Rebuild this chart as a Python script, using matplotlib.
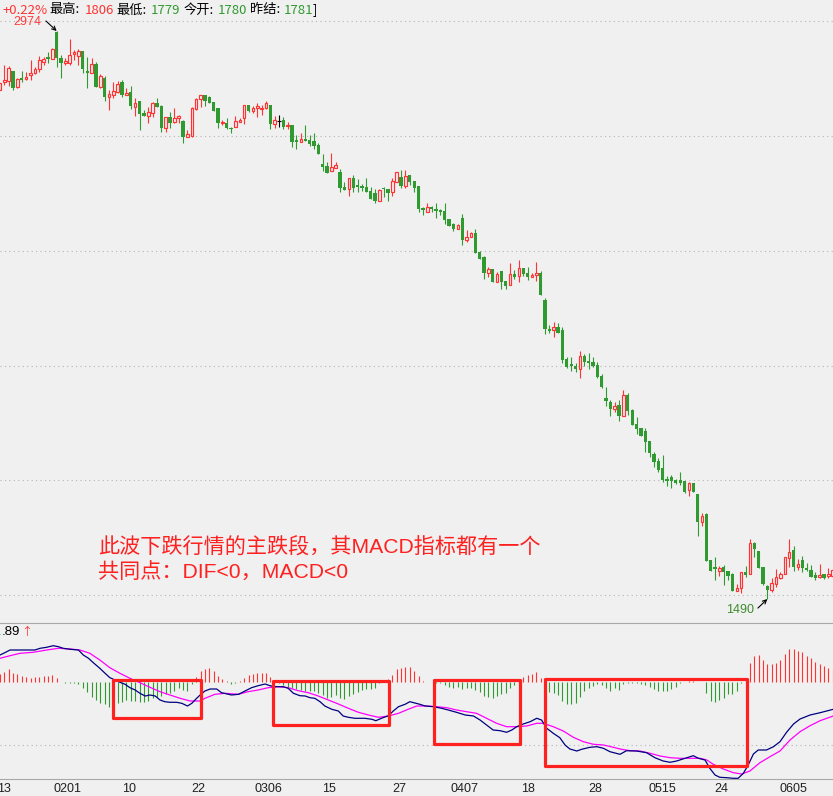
import numpy as np
import matplotlib
matplotlib.use('Agg')
import matplotlib.pyplot as plt
from matplotlib.patches import Rectangle

plt.rcParams['font.family'] = ['Noto Sans CJK SC', 'DejaVu Sans']

# daily bars, oldest first
opens = [2820, 2841, 2843, 2870, 2828, 2851, 2849, 2859, 2864, 2875, 2893, 2906,
         2901, 2971, 2903, 2890, 2890, 2914, 2909, 2922, 2870, 2864, 2888, 2828,
         2851, 2802, 2807, 2815, 2841, 2807, 2815, 2775, 2791, 2760, 2752, 2760,
         2786, 2778, 2721, 2749, 2736, 2747, 2739, 2697, 2700, 2770, 2796, 2807,
         2802, 2789, 2773, 2734, 2734, 2721, 2723, 2736, 2747, 2781, 2765, 2773,
         2770, 2773, 2781, 2731, 2740, 2741, 2726, 2728, 2689, 2684, 2692, 2689,
         2687, 2676, 2627, 2621, 2608, 2616, 2606, 2566, 2561, 2590, 2572, 2569,
         2566, 2556, 2551, 2530, 2564, 2561, 2553, 2579, 2593, 2569, 2598, 2582,
         2569, 2512, 2501, 2514, 2509, 2506, 2504, 2483, 2470, 2457, 2485, 2428,
         2436, 2446, 2397, 2383, 2342, 2352, 2318, 2347, 2321, 2310, 2339, 2334,
         2355, 2342, 2331, 2336, 2342, 2271, 2195, 2193, 2201, 2193, 2117, 2104,
         2099, 2091, 2125, 2112, 2109, 2101, 2073, 2015, 2005, 1986, 1997, 1968,
         2023, 1984, 1947, 1937, 1929, 1903, 1869, 1850, 1832, 1803, 1809, 1801,
         1801, 1798, 1775, 1793, 1764, 1691, 1712, 1592, 1573, 1563, 1573, 1563,
         1555, 1511, 1519, 1560, 1555, 1636, 1615, 1573, 1524, 1513, 1529, 1545,
         1555, 1597, 1618, 1573, 1592, 1571, 1566, 1552, 1547, 1555, 1550, 1550]
highs = [2838, 2885, 2883, 2870, 2851, 2870, 2867, 2898, 2880, 2909, 2906, 2919,
         2930, 2974, 2911, 2903, 2953, 2924, 2927, 2922, 2906, 2903, 2893, 2862,
         2856, 2820, 2841, 2843, 2846, 2825, 2830, 2799, 2791, 2768, 2775, 2789,
         2799, 2781, 2749, 2762, 2773, 2755, 2741, 2715, 2775, 2799, 2807, 2807,
         2804, 2789, 2773, 2741, 2747, 2723, 2752, 2747, 2781, 2781, 2778, 2786,
         2781, 2791, 2781, 2752, 2755, 2749, 2736, 2728, 2702, 2708, 2728, 2702,
         2708, 2681, 2653, 2632, 2655, 2632, 2613, 2579, 2590, 2598, 2587, 2574,
         2590, 2566, 2561, 2561, 2566, 2561, 2590, 2606, 2611, 2611, 2598, 2582,
         2569, 2514, 2525, 2517, 2525, 2509, 2525, 2483, 2472, 2470, 2496, 2454,
         2449, 2457, 2399, 2386, 2357, 2352, 2344, 2347, 2321, 2368, 2349, 2376,
         2355, 2357, 2342, 2370, 2347, 2276, 2206, 2214, 2211, 2201, 2122, 2122,
         2107, 2138, 2130, 2133, 2122, 2109, 2078, 2044, 2010, 2005, 2010, 2036,
         2028, 1986, 1965, 1937, 1937, 1903, 1874, 1858, 1866, 1811, 1814, 1803,
         1822, 1798, 1796, 1793, 1764, 1715, 1715, 1592, 1600, 1576, 1579, 1563,
         1558, 1529, 1560, 1576, 1647, 1639, 1615, 1573, 1526, 1545, 1568, 1560,
         1600, 1647, 1628, 1594, 1602, 1584, 1579, 1560, 1581, 1555, 1571, 1571]
lows = [2820, 2833, 2830, 2820, 2825, 2841, 2846, 2846, 2862, 2867, 2885, 2890,
        2901, 2880, 2851, 2885, 2885, 2898, 2885, 2864, 2825, 2864, 2828, 2825,
        2791, 2768, 2799, 2812, 2802, 2807, 2770, 2752, 2715, 2752, 2734, 2749,
        2775, 2710, 2710, 2721, 2734, 2734, 2681, 2697, 2697, 2768, 2775, 2778,
        2786, 2765, 2721, 2728, 2718, 2708, 2723, 2736, 2731, 2762, 2760, 2749,
        2755, 2770, 2718, 2721, 2723, 2718, 2718, 2671, 2666, 2684, 2687, 2674,
        2666, 2653, 2608, 2603, 2608, 2616, 2553, 2559, 2543, 2553, 2553, 2556,
        2553, 2535, 2525, 2530, 2540, 2530, 2543, 2579, 2564, 2564, 2572, 2553,
        2501, 2493, 2501, 2501, 2485, 2493, 2470, 2464, 2451, 2457, 2415, 2423,
        2436, 2394, 2378, 2326, 2331, 2318, 2318, 2300, 2300, 2310, 2326, 2318,
        2334, 2323, 2331, 2321, 2284, 2182, 2185, 2174, 2185, 2107, 2093, 2086,
        2083, 2067, 2099, 2091, 2096, 2067, 2041, 1994, 1968, 1978, 1955, 1968,
        1971, 1944, 1921, 1916, 1874, 1861, 1835, 1822, 1796, 1785, 1780, 1790,
        1788, 1767, 1759, 1769, 1654, 1681, 1589, 1563, 1539, 1550, 1526, 1539,
        1511, 1511, 1505, 1547, 1555, 1600, 1571, 1526, 1490, 1508, 1521, 1542,
        1555, 1573, 1563, 1566, 1560, 1563, 1547, 1539, 1545, 1542, 1545, 1545]
closes = [2838, 2846, 2877, 2825, 2849, 2847, 2854, 2864, 2875, 2898, 2901, 2901,
          2927, 2903, 2890, 2896, 2911, 2919, 2922, 2875, 2864, 2888, 2828, 2856,
          2802, 2809, 2817, 2836, 2807, 2812, 2778, 2786, 2757, 2752, 2762, 2786,
          2775, 2721, 2749, 2734, 2747, 2752, 2697, 2705, 2773, 2796, 2807, 2791,
          2786, 2765, 2734, 2736, 2721, 2718, 2739, 2741, 2781, 2765, 2773, 2778,
          2773, 2786, 2731, 2741, 2740, 2723, 2728, 2684, 2684, 2692, 2687, 2679,
          2674, 2653, 2619, 2603, 2619, 2624, 2564, 2559, 2590, 2564, 2566, 2564,
          2553, 2535, 2530, 2559, 2560, 2551, 2582, 2606, 2569, 2595, 2579, 2564,
          2509, 2506, 2514, 2509, 2504, 2501, 2480, 2464, 2457, 2467, 2428, 2436,
          2446, 2394, 2378, 2342, 2352, 2318, 2339, 2318, 2308, 2339, 2331, 2355,
          2339, 2331, 2336, 2342, 2284, 2195, 2190, 2201, 2185, 2114, 2096, 2099,
          2091, 2125, 2109, 2107, 2099, 2070, 2044, 2007, 1986, 1994, 1968, 2023,
          1981, 1944, 1934, 1916, 1900, 1871, 1848, 1827, 1801, 1798, 1798, 1793,
          1793, 1769, 1793, 1769, 1691, 1707, 1589, 1563, 1568, 1571, 1560, 1550,
          1511, 1519, 1560, 1552, 1636, 1620, 1571, 1529, 1513, 1532, 1547, 1555,
          1600, 1613, 1573, 1581, 1571, 1566, 1547, 1545, 1552, 1545, 1555, 1566]

# MACD histogram, one per bar
macd_hist = [7.7, 10, 12.7, 8.3, 7.3, 5.7, 5, 4, 5, 5, 5.7, 6,
             6.7, 4, -0.5, -1, -1, -1.5, -2.5, -6.7, -10, -15, -18.3, -21,
             -22.3, -25, -22.3, -21, -20, -18.3, -19.3, -19.3, -20.7, -20, -19.3, -16.7,
             -15, -14.3, -12.7, -11, -9, -6.7, -8.3, -9, -2.3, 4.3, 10.5, 12.5,
             14, 11, 6.2, 3, 1, -2, -1, 0.3, 4, 6.7, 8, 8.7,
             9.2, 9.2, 5, 0.3, -1, -3, -5, -6, -7.7, -8.3, -9, -9,
             -9.3, -11, -13.3, -16, -15, -13.3, -16, -17.3, -14.3, -12.7, -10, -8.3,
             -7.3, -7.3, -6, -1.7, 0.5, 2.5, 6.7, 12.7, 13.3, 14.3, 14.3, 10.7,
             5.7, 0.3, -0.3, -0.5, -1, -1.5, -3.3, -5.7, -6, -5.7, -7.3, -6.7,
             -6.7, -8.3, -10, -14.3, -15, -16, -14, -12.7, -11.7, -6, -3.3, -0.5,
             4.3, 6.7, 7.7, 9.3, 4, -3, -10, -11.7, -13.3, -19.3, -22.7, -22.7,
             -21, -15, -9.3, -6, -4, -2.7, -3.3, -6, -9, -6.7, -8.3, -2,
             -1, -1.5, -1, -2.3, -3, -5.7, -7, -9, -9.3, -9.3, -7.3, -5,
             -1.7, -0.3, 0.7, 1, -0.3, -0.3, -11, -19.3, -20, -18.3, -16.7, -12,
             -12, -9.3, -1, 2, 19, 25.7, 26.7, 21.7, 17.7, 17.7, 19, 21.7,
             27.7, 32.7, 32.3, 30.7, 29.3, 25.7, 23.3, 19.3, 17.7, 15.7, 14, 12]

# DIF / DEA: (bar number, value)
dif_pts = [(1.0, 26.7), (2.1, 29.0), (3.3, 31.7), (7.1, 31.7), (9.0, 31.7), (10.2, 33.4),
           (11.7, 34.4), (13.2, 36.0), (14.4, 35.0), (15.5, 33.4), (17.1, 32.4), (19.0, 31.7),
           (20.1, 26.7), (21.3, 23.4), (22.4, 19.0), (23.9, 13.4), (25.1, 8.4), (26.2, 4.0),
           (27.4, 1.7), (28.5, -0.6), (29.7, -2.6), (30.8, -6.0), (32.0, -8.3), (33.1, -11.6),
           (34.3, -14.3), (35.4, -13.3), (36.6, -14.3), (37.7, -18.3), (38.8, -20.0), (40.0, -20.6),
           (41.5, -20.6), (42.7, -21.6), (44.0, -24.3), (45.0, -21.6), (46.1, -16.6), (46.9, -13.3),
           (48.0, -9.3), (49.2, -7.3), (50.7, -7.3), (51.8, -11.0), (54.1, -13.3), (55.7, -12.6),
           (57.2, -9.3), (58.7, -6.0), (60.2, -4.0), (61.8, -2.3), (62.9, -4.0), (64.1, -5.0),
           (66.0, -5.0), (67.1, -6.6), (68.3, -11.6), (69.8, -14.0), (71.0, -14.3), (72.1, -16.0),
           (73.2, -16.6), (74.4, -20.0), (75.5, -24.3), (77.1, -27.6), (78.6, -29.3), (79.7, -34.3),
           (80.9, -35.6), (82.4, -36.6), (84.7, -36.6), (86.3, -37.6), (87.2, -39.0), (88.5, -36.6),
           (90.1, -34.0), (91.2, -29.3), (92.4, -25.0), (93.9, -22.6), (95.0, -20.0), (97.3, -22.6),
           (98.5, -24.3), (100.4, -25.0), (102.3, -26.6), (103.8, -28.3), (105.7, -30.6), (107.7, -33.3),
           (109.6, -34.3), (111.1, -38.3), (112.6, -43.3), (114.1, -48.3), (115.7, -49.0), (117.2, -50.6),
           (118.4, -48.3), (119.5, -45.0), (121.0, -42.3), (122.6, -40.0), (124.1, -36.6), (125.2, -38.3),
           (126.4, -46.6), (127.9, -51.6), (129.4, -56.0), (130.6, -63.3), (131.7, -67.3), (133.3, -69.3),
           (134.4, -67.6), (136.3, -65.6), (137.9, -65.0), (139.4, -66.6), (140.9, -70.0), (143.2, -72.6),
           (144.7, -69.0), (147.0, -69.3), (149.3, -71.0), (151.2, -76.0), (153.1, -79.3), (154.7, -80.6),
           (156.2, -79.3), (158.1, -76.6), (160.0, -74.0), (161.2, -76.6), (162.7, -78.3), (163.8, -86.6),
           (165.0, -93.3), (166.1, -95.6), (167.7, -96.0), (169.2, -96.6), (170.3, -96.6), (171.5, -91.6),
           (172.6, -83.3), (173.8, -72.3), (174.9, -68.3), (176.8, -68.3), (178.4, -65.0), (179.9, -60.0),
           (181.4, -50.6), (183.0, -42.3), (184.5, -37.3), (186.8, -33.3), (189.1, -31.0), (192.1, -27.6)]
dea_pts = [(1.0, 23.4), (3.3, 26.0), (5.6, 28.4), (8.6, 29.4), (11.7, 31.7), (14.4, 33.4),
           (17.1, 32.7), (19.3, 31.7), (21.6, 28.4), (23.9, 21.7), (26.2, 14.0), (28.5, 8.4),
           (30.8, 3.4), (33.1, -1.0), (35.4, -5.6), (37.7, -10.0), (40.0, -13.3), (42.3, -16.6),
           (44.6, -19.3), (46.9, -19.3), (48.0, -16.6), (50.3, -12.6), (52.6, -11.6), (55.7, -12.6),
           (57.9, -10.0), (60.2, -8.3), (62.5, -6.0), (64.8, -5.0), (67.1, -6.0), (69.4, -9.0),
           (71.7, -11.0), (74.0, -14.3), (76.3, -18.3), (78.6, -22.3), (80.9, -26.6), (83.2, -30.6),
           (85.5, -33.3), (87.8, -35.6), (90.1, -34.3), (92.4, -31.6), (94.6, -27.6), (96.6, -24.3),
           (98.9, -24.3), (101.2, -25.0), (103.5, -26.0), (105.7, -28.3), (108.0, -30.0), (110.3, -31.6),
           (112.6, -36.6), (114.9, -41.6), (117.2, -45.0), (119.5, -45.0), (121.8, -44.3), (124.1, -41.6),
           (125.6, -41.6), (127.9, -45.0), (130.2, -49.3), (132.5, -55.6), (134.8, -60.0), (137.1, -62.6),
           (139.4, -63.3), (141.7, -65.6), (143.2, -67.3), (145.5, -69.0), (147.8, -69.3), (150.1, -71.6),
           (152.4, -74.3), (154.7, -76.0), (157.0, -76.6), (159.3, -76.6), (161.6, -76.6), (163.1, -78.3),
           (164.6, -82.6), (166.9, -87.3), (169.2, -91.0), (171.1, -92.3), (173.0, -89.3), (175.3, -81.0),
           (177.6, -75.0), (179.9, -69.3), (182.2, -58.3), (184.5, -50.0), (186.8, -44.0), (189.1, -39.0),
           (192.1, -34.3)]

date_labels = ['13', '0201', '10', '22', '0306', '15', '27', '0407', '18', '28', '0515', '24', '0605']
date_pos = [2, 16.5, 30.5, 46.5, 62.5, 76.5, 92.5, 107.5, 122, 137.5, 153, 166.5, 183]

# boxes drawn over the MACD panel: (first bar, last bar, top, bottom)
boxes = [(26.9, 47.1, 1.7, -36.3), (63.6, 90.2, 0.7, -43.3),
         (100.5, 120.3, 1.7, -62.3), (126.0, 172.3, 2.7, -84.3)]

W, H = 833, 796
BG = '#f0f0f0'
RED = '#ff3333'
GREEN = '#2f9a2f'
BAR_PX = 4.36   # pixel pitch of one bar


def fx(px):
    return px / W


def fy(py):
    return 1 - py / H


fig = plt.figure(figsize=(W / 100, H / 100), dpi=100, facecolor=BG)
ax = fig.add_axes([0, fy(622), 1, (622 - 18) / H], facecolor=BG)
ax2 = fig.add_axes([0, fy(779), 1, (779 - 623) / H], facecolor=BG)

x = np.arange(1, len(closes) + 1)
o, h, l, c = (np.array(v, dtype=float) for v in (opens, highs, lows, closes))
up = c > o
dn = c < o
flat = c == o

# candles
ax.vlines(x[dn], l[dn], h[dn], color=GREEN, lw=0.8, zorder=2)
ax.bar(x[dn], o[dn] - c[dn], bottom=c[dn], width=0.76, color=GREEN, lw=0, zorder=3)
ax.vlines(x[up], c[up], h[up], color=RED, lw=0.8, zorder=2)
ax.vlines(x[up], l[up], o[up], color=RED, lw=0.8, zorder=2)
ax.bar(x[up], c[up] - o[up], bottom=o[up], width=0.58, facecolor=BG,
       edgecolor=RED, lw=0.85, zorder=3)
ax.vlines(x[flat], l[flat], h[flat], color='black', lw=0.8, zorder=2)
ax.hlines(c[flat], x[flat] - 0.38, x[flat] + 0.38, color='black', lw=0.8, zorder=2)

ax.set_xlim(1, 1 + W / BAR_PX)
ax.set_ylim(1430, 3008)
ax.set_yticks(range(1500, 3001, 300))
ax.grid(axis='y', color='#b4b4b4', ls=(0, (1, 3)), lw=0.8)
ax.tick_params(left=False, bottom=False, labelleft=False, labelbottom=False)
for s in ax.spines.values():
    s.set_visible(False)

# high / low markers
ih, il = int(np.argmax(h)), int(np.argmin(l))
arrow = dict(arrowstyle='->', color='black', lw=0.8, mutation_scale=7, shrinkA=0, shrinkB=0)
ax.annotate('', xy=(x[ih], h[ih]), xytext=(-7.7, 7.2), textcoords='offset points', arrowprops=arrow)
ax.annotate(f'{h[ih]:.0f}', xy=(x[ih], h[ih]), xytext=(-21.5, 6.5), textcoords='offset points',
            ha='center', va='center', color='#ff3b3b', fontsize=9, family='Liberation Sans')
ax.annotate('', xy=(x[il], l[il]), xytext=(-6.8, -6.5), textcoords='offset points', arrowprops=arrow)
ax.annotate(f'{l[il]:.0f}', xy=(x[il], l[il]), xytext=(-19.7, -7.7), textcoords='offset points',
            ha='center', va='center', color='#3d8c2d', fontsize=9, family='Liberation Sans')

# MACD panel
hist = np.array(macd_hist)
ax2.vlines(x, 0, hist, colors=np.where(hist > 0, RED, GREEN), lw=0.8, zorder=2)
dx, dy = zip(*dif_pts)
ex, ey = zip(*dea_pts)
ax2.plot(ex, ey, color='#ff00ff', lw=0.9, zorder=3)
ax2.plot(dx, dy, color='#000080', lw=0.9, zorder=4)
for x0, x1, top, bot in boxes:
    ax2.add_patch(Rectangle((x0, bot), x1 - x0, top - bot, fill=False, edgecolor='#ff2020',
                            lw=2.3, joinstyle='round', zorder=5, clip_on=False))

ax2.set_xlim(1, 1 + W / BAR_PX)
ax2.set_ylim(-97.3, 58.7)
ax2.set_yticks([-63.3])
ax2.grid(axis='y', color='#b4b4b4', ls=(0, (1, 3)), lw=0.8)
ax2.set_xticks(date_pos)
ax2.set_xticklabels(date_labels, family='Liberation Sans', fontsize=9, color='#202020')
ax2.tick_params(left=False, labelleft=False, length=0, pad=3)
for side in ('left', 'right'):
    ax2.spines[side].set_visible(False)
for side in ('top', 'bottom'):
    ax2.spines[side].set_color('#a8a8a8')
    ax2.spines[side].set_linewidth(0.8)

# cut-off indicator value at the panel's top-left
fig.text(fx(-6), fy(632), '1', color='#30c8d8', fontsize=9.5, va='center', family='Liberation Sans')
fig.text(fx(1.5), fy(632), '.89', color='black', fontsize=9.5, va='center', family='Liberation Sans')
fig.text(fx(21), fy(632), '↑', color=RED, fontsize=8, va='center')

# header line
header = [('+0.22%', RED, 3), ('最高:', 'black', 49), ('1806', RED, 85), ('最低:', 'black', 116),
          ('1779', GREEN, 151), ('今开:', 'black', 184), ('1780', GREEN, 218),
          ('昨结:', 'black', 250), ('1781', GREEN, 284), (']', 'black', 313)]
for txt, col, px in header:
    fig.text(fx(px), fy(10), txt, color=col, fontsize=9.5, va='center', ha='left')

# annotation
note_font = ['Liberation Sans', 'Noto Sans CJK SC']
fig.text(fx(98), fy(547), '此波下跌行情的主跌段，其MACD指标都有一个', color='#ff2020',
         fontsize=15.2, va='center', ha='left', family=note_font)
fig.text(fx(98), fy(573), '共同点：DIF<0，MACD<0', color='#ff2020',
         fontsize=15.2, va='center', ha='left', family=note_font)

fig.savefig('out.png', dpi=100, facecolor=BG)
